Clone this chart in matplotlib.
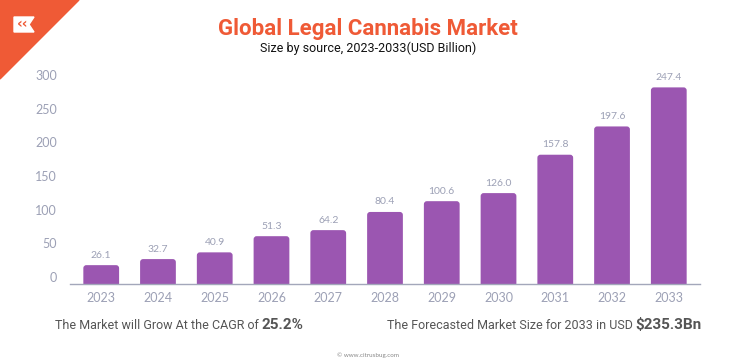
import matplotlib.pyplot as plt
import matplotlib.transforms as mtransforms
from matplotlib.patches import Polygon, FancyBboxPatch

# data
years = ['2023', '2024', '2025', '2026', '2027', '2028', '2029', '2030', '2031', '2032', '2033']
bar_heights = [28, 37, 47, 71, 80, 107, 123, 135, 192, 234, 292]
value_labels = ['26.1', '32.7', '40.9', '51.3', '64.2', '80.4', '100.6', '126.0', '157.8', '197.6', '247.4']
y_ticks = [0, 50, 100, 150, 200, 250, 300]

BAR = '#9b56b1'
GREY = '#9ca0b5'
ORANGE = '#ef5a36'

plt.rcParams['font.family'] = ['Lato', 'DejaVu Sans']

fig = plt.figure(figsize=(7.36, 3.64), dpi=100)
ax = fig.add_axes([70/736, 1 - 284/364, 630/736, 202/364])

x = list(range(len(years)))
bars = ax.bar(x, bar_heights, width=0.63, color=BAR, zorder=2)

ax.set_xlim(-0.55, len(years) - 1 + 0.55)
ax.set_ylim(0, 300)

# swap plain bars for ones with rounded tops
xu = 11.1 / 630   # x data units per px
yu = 300 / 202    # y data units per px
for b in bars:
    bx, bw, bh = b.get_x(), b.get_width(), b.get_height()
    b.set_visible(False)
    ax.add_patch(FancyBboxPatch((bx, -6 * yu), bw, bh + 6 * yu,
                                boxstyle=f'round,pad=0,rounding_size={3 * xu}',
                                mutation_aspect=yu / xu, color=BAR, lw=0, zorder=2))

ax.set_xticks(x, years)
ax.set_yticks(y_ticks, [str(v) for v in y_ticks])
ax.tick_params(axis='both', length=0, colors=GREY, labelsize=9)
ax.tick_params(axis='y', pad=9.5)
ax.tick_params(axis='x', pad=6)

for s in ['top', 'right', 'left']:
    ax.spines[s].set_visible(False)
ax.spines['bottom'].set_color('#a3a7ba')
ax.spines['bottom'].set_linewidth(1)
ax.spines['bottom'].set_zorder(3)

# y labels sit a bit above their grid value in the original
shift = mtransforms.ScaledTranslation(0, 7/100, fig.dpi_scale_trans)
for tick in ax.yaxis.get_major_ticks():
    tick.label1.set_transform(tick.label1.get_transform() + shift)

for b, lab in zip(bars, value_labels):
    ax.annotate(lab, (b.get_x() + b.get_width()/2, b.get_height()),
                xytext=(0, 4), textcoords='offset points',
                ha='center', va='bottom', fontsize=7.5, color=GREY)

# titles
fig.text(0.5, 1 - 29/364, 'Global Legal Cannabis Market', ha='center', va='center',
         fontsize=16, fontweight='bold', color=ORANGE, family=['Roboto', 'DejaVu Sans'])
fig.text(0.5, 1 - 48/364, 'Size by source, 2023-2033(USD Billion)', ha='center', va='center',
         fontsize=9, color='#111111', family=['Roboto', 'DejaVu Sans'])

# logo corner
fig.patches.append(Polygon([[0, 1], [79/736, 1], [0, 1 - 79/364]], closed=True,
                           transform=fig.transFigure, color=ORANGE, zorder=0))
fig.patches.append(Polygon([[14/736, 1 - 17/364], [34/736, 1 - 17/364], [29/736, 1 - 24.5/364],
                            [34/736, 1 - 32/364], [14/736, 1 - 32/364]], closed=True,
                           transform=fig.transFigure, color='white', zorder=1))
fig.text(23/736, 1 - 24/364, '‹‹', ha='center', va='center', fontsize=10,
         color=ORANGE, fontweight='bold', family=['DejaVu Sans'])

# bottom notes
t1 = fig.text(55/736, 1 - 329/364, 'The Market will Grow At the CAGR of ', ha='left',
              va='baseline', fontsize=9, color='#555555', family=['Roboto', 'DejaVu Sans'])
fig.canvas.draw()
ax.annotate('25.2%', xy=(1, 0), xycoords=t1, ha='left', va='bottom',
            fontsize=11, fontweight='bold', color='#555555', family=['Roboto', 'DejaVu Sans'])

t2 = fig.text(702/736, 1 - 329/364, '$235.3Bn', ha='right', va='baseline',
              fontsize=11, fontweight='bold', color='#555555', family=['Roboto', 'DejaVu Sans'])
ax.annotate('The Forecasted Market Size for 2033 in USD ', xy=(0, 0), xycoords=t2,
            ha='right', va='bottom', fontsize=9, color='#555555',
            family=['Roboto', 'DejaVu Sans'])

fig.text(0.5, 1 - 355/364, '© www.citrusbug.com', ha='center', va='center',
         fontsize=4.5, color='#888888')

fig.savefig('out.png', dpi=100)
